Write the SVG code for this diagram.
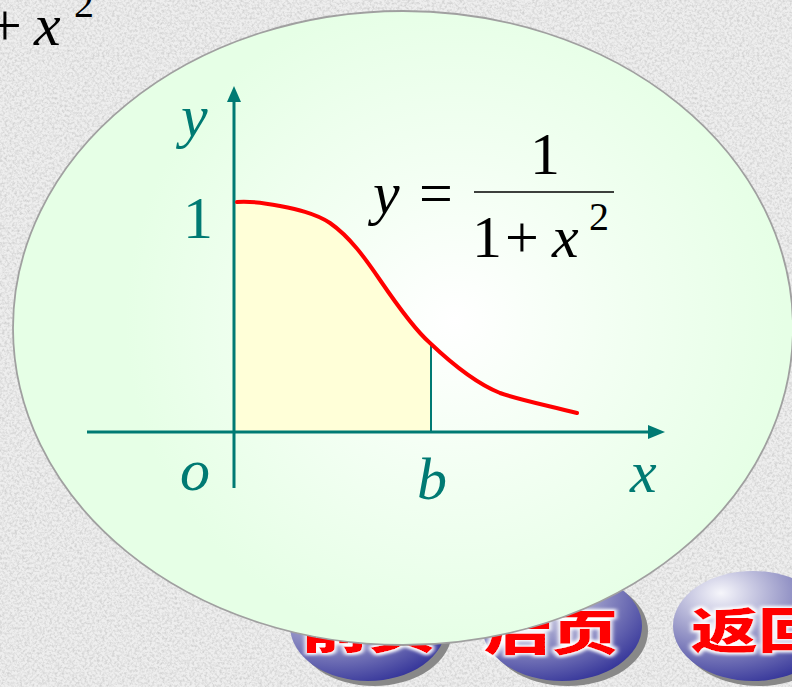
<svg xmlns="http://www.w3.org/2000/svg" width="792" height="687" viewBox="0 0 792 687">
<style>
.tm{font-family:'Times New Roman','Liberation Serif','Nimbus Roman','Noto Serif','DejaVu Serif',Times,serif}
.it{font-style:italic}
.axis{stroke:#007A73;stroke-width:3;fill:none}
.btnTxt{font-family:'Noto Sans CJK SC','Noto Sans CJK TC',sans-serif;font-weight:900;font-size:48px;fill:#ff0000}
</style>
<defs>
<filter id="noise" x="0" y="0" width="100%" height="100%">
<feTurbulence type="fractalNoise" baseFrequency="0.4" numOctaves="3" seed="7" result="t"/>
<feColorMatrix in="t" type="matrix" values="0 0 0 0 0  0 0 0 0 0  0 0 0 0 0  0.9 0 0 0 -0.35" />
</filter>
<radialGradient id="ellG" gradientUnits="userSpaceOnUse" cx="455" cy="320" r="330">
<stop offset="0" stop-color="#ffffff"/>
<stop offset="0.5" stop-color="#f2fff2"/>
<stop offset="1" stop-color="#e6ffe6"/>
</radialGradient>
<radialGradient id="btnG" cx="0.3" cy="0.2" r="0.9">
<stop offset="0" stop-color="#f6f6fb"/>
<stop offset="0.45" stop-color="#9c9cca"/>
<stop offset="1" stop-color="#2e2e96"/>
</radialGradient>
<filter id="glow" x="-20%" y="-20%" width="140%" height="140%">
<feMorphology in="SourceAlpha" operator="dilate" radius="1.5" result="d"/>
<feGaussianBlur in="d" stdDeviation="1.5" result="b"/>
<feFlood flood-color="#ffffff"/>
<feComposite in2="b" operator="in" result="w"/>
<feMerge><feMergeNode in="w"/><feMergeNode in="SourceGraphic"/></feMerge>
</filter>
</defs>

<g id="background">
<rect x="0" y="0" width="792" height="687" fill="#eeeeee"/>
<rect x="0" y="0" width="792" height="687" filter="url(#noise)" opacity="0.3"/>
</g>

<g id="topleft-text" fill="#000" class="tm">
<text x="-12" y="45" font-size="60">+</text>
<text x="34" y="45" font-size="60" class="tm it">x</text>
<text x="74" y="17" font-size="40">2</text>
</g>

<g id="buttons">
<g id="btn-prev">
<ellipse cx="374" cy="631" rx="78" ry="55" fill="#888"/>
<ellipse cx="368" cy="626" rx="78" ry="55" fill="url(#btnG)"/>
<text class="btnTxt" filter="url(#glow)" transform="translate(368,648) scale(1.4,1)" text-anchor="middle">前页</text>
</g>
<g id="btn-next">
<ellipse cx="568" cy="631" rx="80" ry="55" fill="#888"/>
<ellipse cx="562" cy="626" rx="80" ry="55" fill="url(#btnG)"/>
<text class="btnTxt" filter="url(#glow)" transform="translate(551,650) scale(1.4,1)" text-anchor="middle">后页</text>
</g>
<g id="btn-back">
<ellipse cx="759" cy="631" rx="80" ry="55" fill="#888"/>
<ellipse cx="753" cy="626" rx="80" ry="55" fill="url(#btnG)"/>
<text class="btnTxt" filter="url(#glow)" transform="translate(758,648) scale(1.4,1)" text-anchor="middle">返回</text>
</g>
</g>

<g id="bubble">
<ellipse cx="403" cy="328" rx="390" ry="317" fill="url(#ellG)" stroke="#a0a0a0" stroke-width="1.8"/>
</g>

<g id="area">
<path d="M235,202 C250,201 265,203 280,206 C295,209 315,213 330,223 C350,237 365,258 380,280 C395,302 415,330 431,343 L431,432 L235,432 Z" fill="#ffffd8"/>
</g>

<g id="connectors">
<line class="axis" x1="234" y1="100" x2="234" y2="488"/>
<polygon points="234,86 227,102 241,102" fill="#007A73"/>
<line class="axis" x1="87" y1="432" x2="650" y2="432"/>
<polygon points="665,432 648,425 648,439" fill="#007A73"/>
<line x1="431" y1="343" x2="431" y2="432" stroke="#007A73" stroke-width="2"/>
</g>

<g id="curve">
<path d="M237,202 C250,201 265,203 280,206 C295,209 315,213 330,223 C350,237 365,258 380,280 C395,302 415,330 430,343 C450,362 475,383 500,393 C520,400 550,406 577,413" fill="none" stroke="#ff0000" stroke-width="4" stroke-linecap="round"/>
</g>

<g id="axis-labels" fill="#007A73" class="tm" font-size="60">
<text x="181" y="136" class="tm it">y</text>
<text x="183" y="238" class="tm">1</text>
<text x="180" y="490" class="tm it">o</text>
<text x="417" y="499" class="tm it">b</text>
<text x="630" y="492" class="tm it">x</text>
</g>

<g id="formula" fill="#000" class="tm">
<text x="373" y="213" font-size="60" class="tm it">y</text>
<text x="419" y="213" font-size="60" class="tm">=</text>
<line x1="474" y1="192" x2="614" y2="192" stroke="#000" stroke-width="1.6"/>
<text x="530" y="174" font-size="60" class="tm">1</text>
<text x="472" y="257" font-size="60" class="tm">1</text>
<text x="505" y="257" font-size="60" class="tm">+</text>
<text x="552" y="257" font-size="60" class="tm it">x</text>
<text x="589" y="230" font-size="40" class="tm">2</text>
</g>
</svg>
